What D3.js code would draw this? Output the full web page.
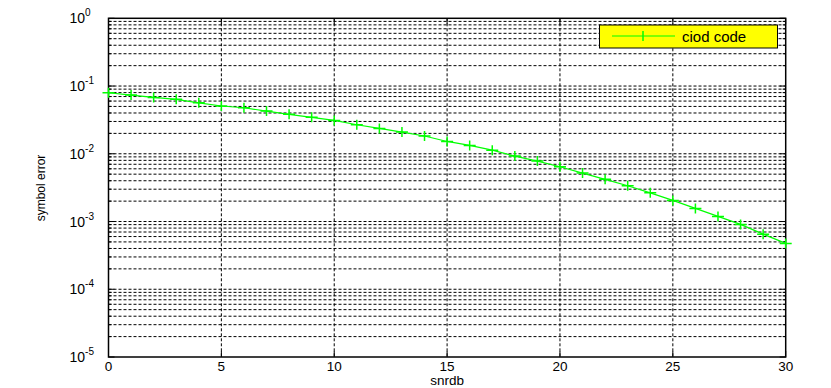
<!DOCTYPE html>
<html><head><meta charset="utf-8">
<script src="https://cdn.jsdelivr.net/npm/d3@7"></script>
<style>
body{margin:0;background:#fff;}
svg{display:block;font-family:"Liberation Sans",Arial,sans-serif;}
</style></head>
<body><svg id="c" width="831" height="388"></svg>
<script>
const snrdb = [0,1,2,3,4,5,6,7,8,9,10,11,12,13,14,15,16,17,18,19,20,21,22,23,24,25,26,27,28,29,30];
const symbolError = [0.0796,0.0736,0.068,0.0636,0.0566,0.0507,0.0478,0.0427,0.0382,0.0345,0.0311,0.0268,0.0237,0.0209,0.0183,0.0152,0.0133,0.0113,0.00925,0.0078,0.00643,0.00519,0.00419,0.00337,0.00265,0.00205,0.00156,0.00119,0.000906,0.000651,0.000475];
const xTicks = [0,5,10,15,20,25,30];
const yDecades = [-5,-4,-3,-2,-1,0];
const seriesName = "ciod code";

const svg = d3.select("#c");
const L=108.5, R=785.7, T=18.3, B=357;
const x = d3.scaleLinear().domain([0,30]).range([L,R]);
const y = d3.scaleLog().domain([1e-5,1]).range([B,T]);

const minorY = [];
yDecades.slice(0,-1).forEach(k=>{ for(let m=1;m<=9;m++) minorY.push(m*Math.pow(10,k)); });

const g = svg.append("g");
g.selectAll("line.hg").data(minorY.filter(v=>v>1e-5)).join("line")
  .attr("x1",L).attr("x2",R).attr("y1",d=>y(d)).attr("y2",d=>y(d))
  .attr("stroke","#000").attr("stroke-width",1).attr("stroke-dasharray","3,2");
g.selectAll("line.vg").data(xTicks.slice(1,-1)).join("line")
  .attr("x1",d=>x(d)).attr("x2",d=>x(d)).attr("y1",T).attr("y2",B)
  .attr("stroke","#000").attr("stroke-width",1).attr("stroke-dasharray","3,2");

const tk = svg.append("g").attr("stroke","#000").attr("stroke-width",1);
xTicks.forEach(v=>{
  tk.append("line").attr("x1",x(v)).attr("x2",x(v)).attr("y1",B).attr("y2",B-6);
  tk.append("line").attr("x1",x(v)).attr("x2",x(v)).attr("y1",T).attr("y2",T+6);
});
minorY.concat([1]).forEach(v=>{
  const major = Math.abs(Math.log10(v)-Math.round(Math.log10(v)))<1e-9;
  const len = major?6:3;
  tk.append("line").attr("x1",L).attr("x2",L+len).attr("y1",y(v)).attr("y2",y(v));
  tk.append("line").attr("x1",R).attr("x2",R-len).attr("y1",y(v)).attr("y2",y(v));
});

svg.append("rect").attr("x",L).attr("y",T).attr("width",R-L).attr("height",B-T)
  .attr("fill","none").attr("stroke","#000").attr("stroke-width",1.5);

svg.append("g").selectAll("text").data(xTicks).join("text")
  .attr("x",d=>x(d)).attr("y",B+13.5).attr("text-anchor","middle")
  .attr("font-size",13.5).attr("fill","#000").text(d=>d);
const yl = svg.append("g").selectAll("text").data(yDecades).join("text")
  .attr("x",L-39).attr("y",d=>y(Math.pow(10,d))+5).attr("font-size",14).attr("fill","#000");
yl.append("tspan").text("10");
yl.append("tspan").attr("dy",-7).attr("font-size",10).text(d=>d);

svg.append("text").attr("x",(L+R)/2).attr("y",384.5).attr("text-anchor","middle")
  .attr("font-size",13.5).attr("fill","#000").text("snrdb");
svg.append("text").attr("transform","translate(45,188) rotate(-90)").attr("text-anchor","middle")
  .attr("font-size",12).attr("fill","#000").text("symbol error");

const data = snrdb.map((s,i)=>({s, e:symbolError[i]}));
const col = "#00ff00";
svg.append("path").datum(data)
  .attr("d", d3.line().x(d=>x(d.s)).y(d=>y(d.e)))
  .attr("fill","none").attr("stroke",col).attr("stroke-width",1.2);
const mk = svg.append("g").attr("stroke",col).attr("stroke-width",1.5);
mk.selectAll("path").data(data).join("path")
  .attr("d",d=>{const cx=x(d.s), cy=y(d.e); return `M${cx-6},${cy}H${cx+6}M${cx},${cy-5}V${cy+5}`;});

const lg = svg.append("g");
lg.append("rect").attr("x",599.5).attr("y",25).attr("width",178).attr("height",23)
  .attr("fill","#ffff00").attr("stroke","#000").attr("stroke-width",1);
lg.append("line").attr("x1",612).attr("x2",675).attr("y1",36).attr("y2",36)
  .attr("stroke",col).attr("stroke-width",1.2);
lg.append("path").attr("d","M643,31V41").attr("stroke",col).attr("stroke-width",1.5);
lg.append("text").attr("x",682).attr("y",42).attr("font-size",15).attr("fill","#000").text(seriesName);
</script></body></html>
